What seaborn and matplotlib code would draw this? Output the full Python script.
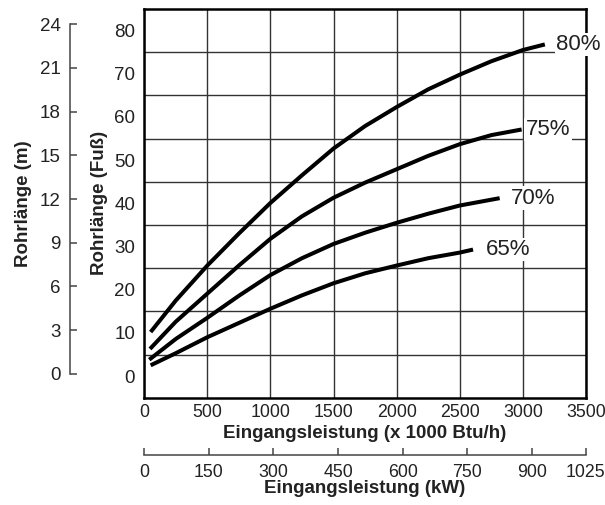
import numpy as np
import pandas as pd
import matplotlib
matplotlib.use("Agg")
import matplotlib.pyplot as plt
import seaborn as sns

# Values: x in 1000 Btu/h, y in feet
btu_80 = [51, 250, 500, 750, 1000, 1250, 1500, 1750, 2000, 2250, 2500, 2750, 3000, 3174]
ft_80 = [10.2, 17.5, 25.6, 33.0, 40.1, 46.5, 52.7, 57.9, 62.3, 66.4, 69.8, 72.9, 75.5, 76.8]

btu_75 = [46, 250, 500, 750, 1000, 1250, 1500, 1750, 2000, 2250, 2500, 2750, 2990]
ft_75 = [6.3, 12.6, 19.1, 25.6, 31.8, 37.0, 41.3, 44.8, 47.9, 51.0, 53.7, 55.8, 57.1]

btu_70 = [40, 250, 500, 750, 1000, 1250, 1500, 1750, 2000, 2250, 2500, 2816]
ft_70 = [3.8, 8.6, 13.5, 18.6, 23.4, 27.3, 30.6, 33.2, 35.5, 37.6, 39.5, 41.2]

btu_65 = [51, 250, 500, 750, 1000, 1250, 1500, 1750, 2000, 2250, 2500, 2605]
ft_65 = [2.5, 5.3, 9.0, 12.3, 15.6, 18.7, 21.5, 23.8, 25.6, 27.3, 28.6, 29.3]

curve_labels = ["80%", "75%", "70%", "65%"]

x_ticks = [0, 500, 1000, 1500, 2000, 2500, 3000, 3500]
ft_ticks = [0, 10, 20, 30, 40, 50, 60, 70, 80]
m_ticks = [0, 3, 6, 9, 12, 15, 18, 21, 24]
kw_ticks = [0, 150, 300, 450, 600, 750, 900, 1025]

KW_PER_MBH = 0.29307

curves = [(btu_80, ft_80), (btu_75, ft_75), (btu_70, ft_70), (btu_65, ft_65)]
df = pd.concat([pd.DataFrame({"btu": x, "ft": y, "eff": lab})
                for (x, y), lab in zip(curves, curve_labels)], ignore_index=True)

sns.set_style("white")
plt.rcParams['font.family'] = ['Liberation Sans', 'DejaVu Sans']
txt = '#222222'

fig = plt.figure(figsize=(6.05, 5.05), dpi=100)
ax = fig.add_axes([144.2 / 605, 1 - 397.7 / 505, (586 - 144.2) / 605, 388.7 / 505])

sns.lineplot(data=df, x="btu", y="ft", hue="eff", palette=["black"] * 4,
             linewidth=2.9, legend=False, estimator=None, sort=False, ax=ax,
             solid_capstyle='butt', solid_joinstyle='round')

ax.set_xlim(0, 3500)
ax.set_ylim(-5, 85)
ax.set_xticks(x_ticks)
ax.set_yticks(ft_ticks)
ax.set_yticks([5, 15, 25, 35, 45, 55, 65, 75], minor=True)
ax.xaxis.grid(True, which='major', color='#333333', lw=1)
ax.yaxis.grid(True, which='minor', color='#333333', lw=1)
ax.tick_params(which='both', length=0)
ax.tick_params(axis='x', labelsize=12.8, pad=4.4, labelcolor=txt)
ax.tick_params(axis='y', labelsize=13.5, pad=6.5, labelcolor=txt)
for s in ax.spines.values():
    s.set_linewidth(1.8)
    s.set_color('black')

ax.set_xlabel("Eingangsleistung (x 1000 Btu/h)", fontsize=13.5, fontweight='bold', color=txt)
ax.xaxis.set_label_coords(0.5, -0.07)
ax.set_ylabel("Rohrlänge (Fuß)", fontsize=13.5, fontweight='bold', color=txt)
ax.yaxis.set_label_coords(-0.082, 0.5)

# curve labels at the line ends, white box hides grid behind them
for (x, y), lab, dx in zip(curves, curve_labels, [8, 3, 8, 9]):
    ax.annotate(lab, xy=(x[-1], y[-1]), xytext=(dx, 0), textcoords='offset points',
                ha='left', va='center', fontsize=16, color=txt,
                bbox=dict(fc='white', ec='none', pad=1), zorder=5,
                annotation_clip=False)

# metre axis on the left
ax2 = ax.twinx()
ax2.set_ylim(-1.63, 25.04)
ax2.set_yticks(m_ticks)
ax2.yaxis.tick_left()
ax2.yaxis.set_label_position('left')
for s in ['right', 'top', 'bottom']:
    ax2.spines[s].set_visible(False)
ax2.spines['left'].set_position(('axes', -0.168))
ax2.spines['left'].set_bounds(0, 24)
ax2.spines['left'].set_color('#444444')
ax2.spines['left'].set_linewidth(1.1)
ax2.tick_params(axis='y', direction='in', length=5, width=1.1, color='#444444',
                pad=6.7, labelsize=13.5, labelcolor=txt)
ax2.set_ylabel("Rohrlänge (m)", fontsize=13.5, fontweight='bold', color=txt)
ax2.yaxis.set_label_coords(-0.255, 0.5)

# kW axis below
sec = ax.secondary_xaxis(-0.147, functions=(lambda v: v * KW_PER_MBH,
                                            lambda v: v / KW_PER_MBH))
sec.set_xticks(kw_ticks)
sec.spines['bottom'].set_bounds(0, 1025)
sec.spines['bottom'].set_color('#444444')
sec.spines['bottom'].set_linewidth(1.1)
sec.tick_params(direction='in', length=5, width=1.1, color='#444444', pad=6.5,
                labelsize=12.8, labelcolor=txt)
sec.set_xlabel("Eingangsleistung (kW)", fontsize=13.5, fontweight='bold', color=txt)
sec.xaxis.set_label_coords(0.5, -0.212, transform=ax.transAxes)

fig.savefig("out.png", dpi=100)
